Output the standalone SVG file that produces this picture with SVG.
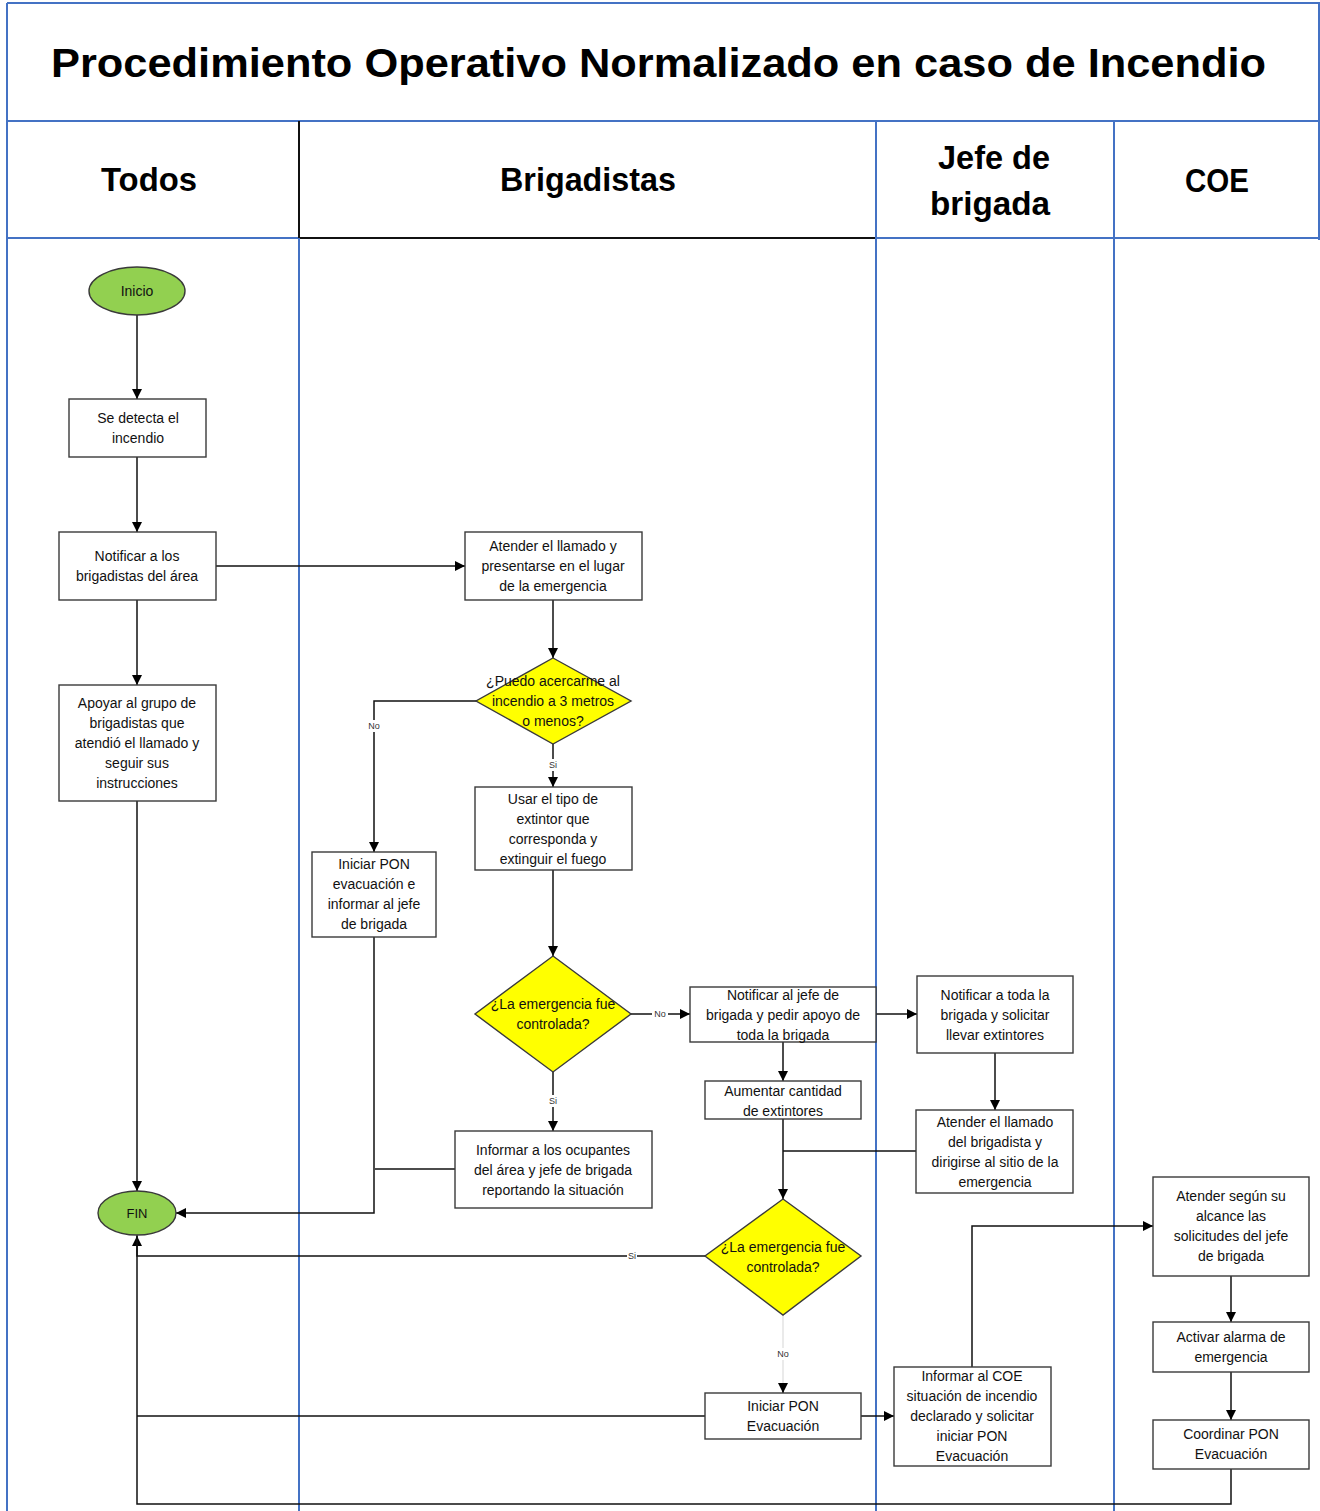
<svg xmlns="http://www.w3.org/2000/svg" width="1320" height="1511" viewBox="0 0 1320 1511">
  <style>
    .lane { stroke: #4472C4; stroke-width: 2; fill: none; }
    .laneDark { stroke: #111; stroke-width: 2; fill: none; }
    .box { fill: #fff; stroke: #3a3a3a; stroke-width: 1.4; }
    .term { fill: #92D050; stroke: #3a3a3a; stroke-width: 1.4; }
    .dec { fill: #FFFF00; stroke: #3a3a3a; stroke-width: 1.4; }
    .t { font-family: "Liberation Sans", Arial, sans-serif; font-size: 14px; fill: #111; text-anchor: middle; }
    .title { font-family: "Liberation Sans", Arial, sans-serif; font-size: 41px; font-weight: bold; fill: #000; }
    .head { font-family: "Liberation Sans", Arial, sans-serif; font-size: 34px; font-weight: bold; fill: #000; text-anchor: middle; }
    .lbl { font-family: "Liberation Sans", Arial, sans-serif; font-size: 9px; fill: #333; text-anchor: middle; }
    .c { fill: none; stroke: #111; stroke-width: 1.5; }
    .cFaint { fill: none; stroke: #dcdcdc; stroke-width: 1.2; }
  </style>
  <defs>
    <marker id="arr" viewBox="0 0 10 10" refX="10" refY="5" markerWidth="10" markerHeight="10" markerUnits="userSpaceOnUse" orient="auto">
      <path d="M0,0 L10,5 L0,10 z" fill="#000"/>
    </marker>
  </defs>

  <rect width="1320" height="1511" fill="#fff"/>

  <!-- swimlane frame -->
  <g id="lanes">
    <line class="lane" x1="7" y1="3" x2="1320" y2="3"/>
    <line class="lane" x1="7" y1="3" x2="7" y2="1511"/>
    <line class="lane" x1="1319" y1="3" x2="1319" y2="240"/>
    <line class="lane" x1="7" y1="121" x2="1320" y2="121"/>
    <line class="lane" x1="7" y1="238" x2="300" y2="238"/>
    <line class="lane" x1="876" y1="238" x2="1320" y2="238"/>
    <line class="laneDark" x1="299" y1="238" x2="876" y2="238"/>
    <line class="laneDark" x1="299" y1="121" x2="299" y2="238"/>
    <line class="lane" x1="299" y1="238" x2="299" y2="1511"/>
    <line class="lane" x1="876" y1="121" x2="876" y2="1511"/>
    <line class="lane" x1="1114" y1="121" x2="1114" y2="1511"/>
    <text class="title" x="51" y="77" textLength="1215" lengthAdjust="spacingAndGlyphs">Procedimiento Operativo Normalizado en caso de Incendio</text>
    <text class="head" x="149" y="191" textLength="96" lengthAdjust="spacingAndGlyphs">Todos</text>
    <text class="head" x="588" y="191" textLength="176" lengthAdjust="spacingAndGlyphs">Brigadistas</text>
    <text class="head" x="994" y="169" textLength="112" lengthAdjust="spacingAndGlyphs">Jefe de</text>
    <text class="head" x="990" y="215" textLength="120" lengthAdjust="spacingAndGlyphs">brigada</text>
    <text class="head" x="1217" y="192" textLength="64" lengthAdjust="spacingAndGlyphs">COE</text>
  </g>

  <!-- connectors -->
  <g id="connectors">
    <path class="c" d="M137,315 V399" marker-end="url(#arr)"/>
    <path class="c" d="M137,457 V532" marker-end="url(#arr)"/>
    <path class="c" d="M137,600 V685" marker-end="url(#arr)"/>
    <path class="c" d="M216,566 H465" marker-end="url(#arr)"/>
    <path class="c" d="M553,600 V658" marker-end="url(#arr)"/>
    <path class="c" d="M476,701 H374 V852" marker-end="url(#arr)"/>
    <path class="c" d="M553,744 V787" marker-end="url(#arr)"/>
    <path class="c" d="M553,870 V956" marker-end="url(#arr)"/>
    <path class="c" d="M631,1014 H690" marker-end="url(#arr)"/>
    <path class="c" d="M553,1072 V1131" marker-end="url(#arr)"/>
    <path class="c" d="M783,1042 V1081" marker-end="url(#arr)"/>
    <path class="c" d="M876,1014 H917" marker-end="url(#arr)"/>
    <path class="c" d="M995,1053 V1110" marker-end="url(#arr)"/>
    <path class="c" d="M783,1119 V1199" marker-end="url(#arr)"/>
    <path class="c" d="M916,1151 H783"/>
    <path class="c" d="M137,801 V1191" marker-end="url(#arr)"/>
    <path class="c" d="M374,937 V1213 H176" marker-end="url(#arr)"/>
    <path class="c" d="M455,1169 H375"/>
    <path class="c" d="M705,1256 H137 V1236" marker-end="url(#arr)"/>
    <path class="cFaint" d="M783,1315 V1386"/>
    <path class="c" d="M783,1385 V1393" marker-end="url(#arr)"/>
    <path class="c" d="M705,1416 H137"/>
    <path class="c" d="M861,1416 H894" marker-end="url(#arr)"/>
    <path class="c" d="M972,1367 V1226 H1153" marker-end="url(#arr)"/>
    <path class="c" d="M1231,1276 V1322" marker-end="url(#arr)"/>
    <path class="c" d="M1231,1372 V1420" marker-end="url(#arr)"/>
    <path class="c" d="M1231,1469 V1504 H137 V1213" marker-end="url(#arr)"/>

    <!-- branch labels -->
    <rect x="366" y="720" width="16" height="12" fill="#fff"/>
    <text class="lbl" x="374" y="729">No</text>
    <rect x="548" y="759" width="10" height="12" fill="#fff"/>
    <text class="lbl" x="553" y="768">Si</text>
    <rect x="652" y="1008" width="16" height="12" fill="#fff"/>
    <text class="lbl" x="660" y="1017">No</text>
    <rect x="548" y="1095" width="10" height="12" fill="#fff"/>
    <text class="lbl" x="553" y="1104">Si</text>
    <rect x="627" y="1250" width="10" height="12" fill="#fff"/>
    <text class="lbl" x="632" y="1259">Si</text>
    <rect x="775" y="1348" width="16" height="12" fill="#fff"/>
    <text class="lbl" x="783" y="1357">No</text>
  </g>

  <!-- Todos lane -->
  <g id="inicio">
    <ellipse class="term" cx="137" cy="291" rx="48" ry="24"/>
    <text class="t" x="137" y="296">Inicio</text>
  </g>
  <g id="se-detecta">
    <rect class="box" x="69" y="399" width="137" height="58"/>
    <text class="t" x="138" y="423">Se detecta el</text>
    <text class="t" x="138" y="443">incendio</text>
  </g>
  <g id="notificar-brigadistas">
    <rect class="box" x="59" y="532" width="157" height="68"/>
    <text class="t" x="137" y="561">Notificar a los</text>
    <text class="t" x="137" y="581">brigadistas del área</text>
  </g>
  <g id="apoyar">
    <rect class="box" x="59" y="685" width="157" height="116"/>
    <text class="t" x="137" y="708">Apoyar al grupo de</text>
    <text class="t" x="137" y="728">brigadistas que</text>
    <text class="t" x="137" y="748">atendió el llamado y</text>
    <text class="t" x="137" y="768">seguir sus</text>
    <text class="t" x="137" y="788">instrucciones</text>
  </g>
  <g id="fin">
    <ellipse class="term" cx="137" cy="1213" rx="39" ry="22"/>
    <text class="t" x="137" y="1218" style="font-size:13px">FIN</text>
  </g>

  <!-- Brigadistas lane -->
  <g id="atender-llamado">
    <rect class="box" x="465" y="532" width="177" height="68"/>
    <text class="t" x="553" y="551">Atender el llamado y</text>
    <text class="t" x="553" y="571">presentarse en el lugar</text>
    <text class="t" x="553" y="591">de la emergencia</text>
  </g>
  <g id="puedo-acercarme">
    <polygon class="dec" points="553,658 631,701 553,744 476,701"/>
    <text class="t" x="553" y="686">¿Puedo acercarme al</text>
    <text class="t" x="553" y="706">incendio a 3 metros</text>
    <text class="t" x="553" y="726">o menos?</text>
  </g>
  <g id="usar-extintor">
    <rect class="box" x="475" y="787" width="157" height="83"/>
    <text class="t" x="553" y="804">Usar el tipo de</text>
    <text class="t" x="553" y="824">extintor que</text>
    <text class="t" x="553" y="844">corresponda y</text>
    <text class="t" x="553" y="864">extinguir el fuego</text>
  </g>
  <g id="iniciar-pon-evacuacion-informar">
    <rect class="box" x="312" y="852" width="124" height="85"/>
    <text class="t" x="374" y="869">Iniciar PON</text>
    <text class="t" x="374" y="889">evacuación e</text>
    <text class="t" x="374" y="909">informar al jefe</text>
    <text class="t" x="374" y="929">de brigada</text>
  </g>
  <g id="controlada-1">
    <polygon class="dec" points="553,956 631,1014 553,1072 475,1014"/>
    <text class="t" x="553" y="1009">¿La emergencia fue</text>
    <text class="t" x="553" y="1029">controlada?</text>
  </g>
  <g id="informar-ocupantes">
    <rect class="box" x="455" y="1131" width="197" height="77"/>
    <text class="t" x="553" y="1155">Informar a los ocupantes</text>
    <text class="t" x="553" y="1175">del área y jefe de brigada</text>
    <text class="t" x="553" y="1195">reportando la situación</text>
  </g>
  <g id="notificar-jefe">
    <rect class="box" x="690" y="987" width="186" height="55"/>
    <text class="t" x="783" y="1000">Notificar al jefe de</text>
    <text class="t" x="783" y="1020">brigada y pedir apoyo de</text>
    <text class="t" x="783" y="1040">toda la brigada</text>
  </g>
  <g id="aumentar-extintores">
    <rect class="box" x="705" y="1081" width="156" height="38"/>
    <text class="t" x="783" y="1096">Aumentar cantidad</text>
    <text class="t" x="783" y="1116">de extintores</text>
  </g>
  <g id="controlada-2">
    <polygon class="dec" points="783,1199 861,1256 783,1315 705,1256"/>
    <text class="t" x="783" y="1252">¿La emergencia fue</text>
    <text class="t" x="783" y="1272">controlada?</text>
  </g>
  <g id="iniciar-pon-evacuacion">
    <rect class="box" x="705" y="1393" width="156" height="46"/>
    <text class="t" x="783" y="1411">Iniciar PON</text>
    <text class="t" x="783" y="1431">Evacuación</text>
  </g>

  <!-- Jefe de brigada lane -->
  <g id="notificar-toda-brigada">
    <rect class="box" x="917" y="976" width="156" height="77"/>
    <text class="t" x="995" y="1000">Notificar a toda la</text>
    <text class="t" x="995" y="1020">brigada y solicitar</text>
    <text class="t" x="995" y="1040">llevar extintores</text>
  </g>
  <g id="atender-brigadista">
    <rect class="box" x="916" y="1110" width="157" height="83"/>
    <text class="t" x="995" y="1127">Atender el llamado</text>
    <text class="t" x="995" y="1147">del brigadista y</text>
    <text class="t" x="995" y="1167">dirigirse al sitio de la</text>
    <text class="t" x="995" y="1187">emergencia</text>
  </g>
  <g id="informar-coe">
    <rect class="box" x="894" y="1367" width="157" height="99"/>
    <text class="t" x="972" y="1381">Informar al COE</text>
    <text class="t" x="972" y="1401">situación de incendio</text>
    <text class="t" x="972" y="1421">declarado y solicitar</text>
    <text class="t" x="972" y="1441">iniciar PON</text>
    <text class="t" x="972" y="1461">Evacuación</text>
  </g>

  <!-- COE lane -->
  <g id="atender-solicitudes">
    <rect class="box" x="1153" y="1177" width="156" height="99"/>
    <text class="t" x="1231" y="1201">Atender según su</text>
    <text class="t" x="1231" y="1221">alcance las</text>
    <text class="t" x="1231" y="1241">solicitudes del jefe</text>
    <text class="t" x="1231" y="1261">de brigada</text>
  </g>
  <g id="activar-alarma">
    <rect class="box" x="1153" y="1322" width="156" height="50"/>
    <text class="t" x="1231" y="1342">Activar alarma de</text>
    <text class="t" x="1231" y="1362">emergencia</text>
  </g>
  <g id="coordinar-pon">
    <rect class="box" x="1153" y="1420" width="156" height="49"/>
    <text class="t" x="1231" y="1439">Coordinar PON</text>
    <text class="t" x="1231" y="1459">Evacuación</text>
  </g>
</svg>
